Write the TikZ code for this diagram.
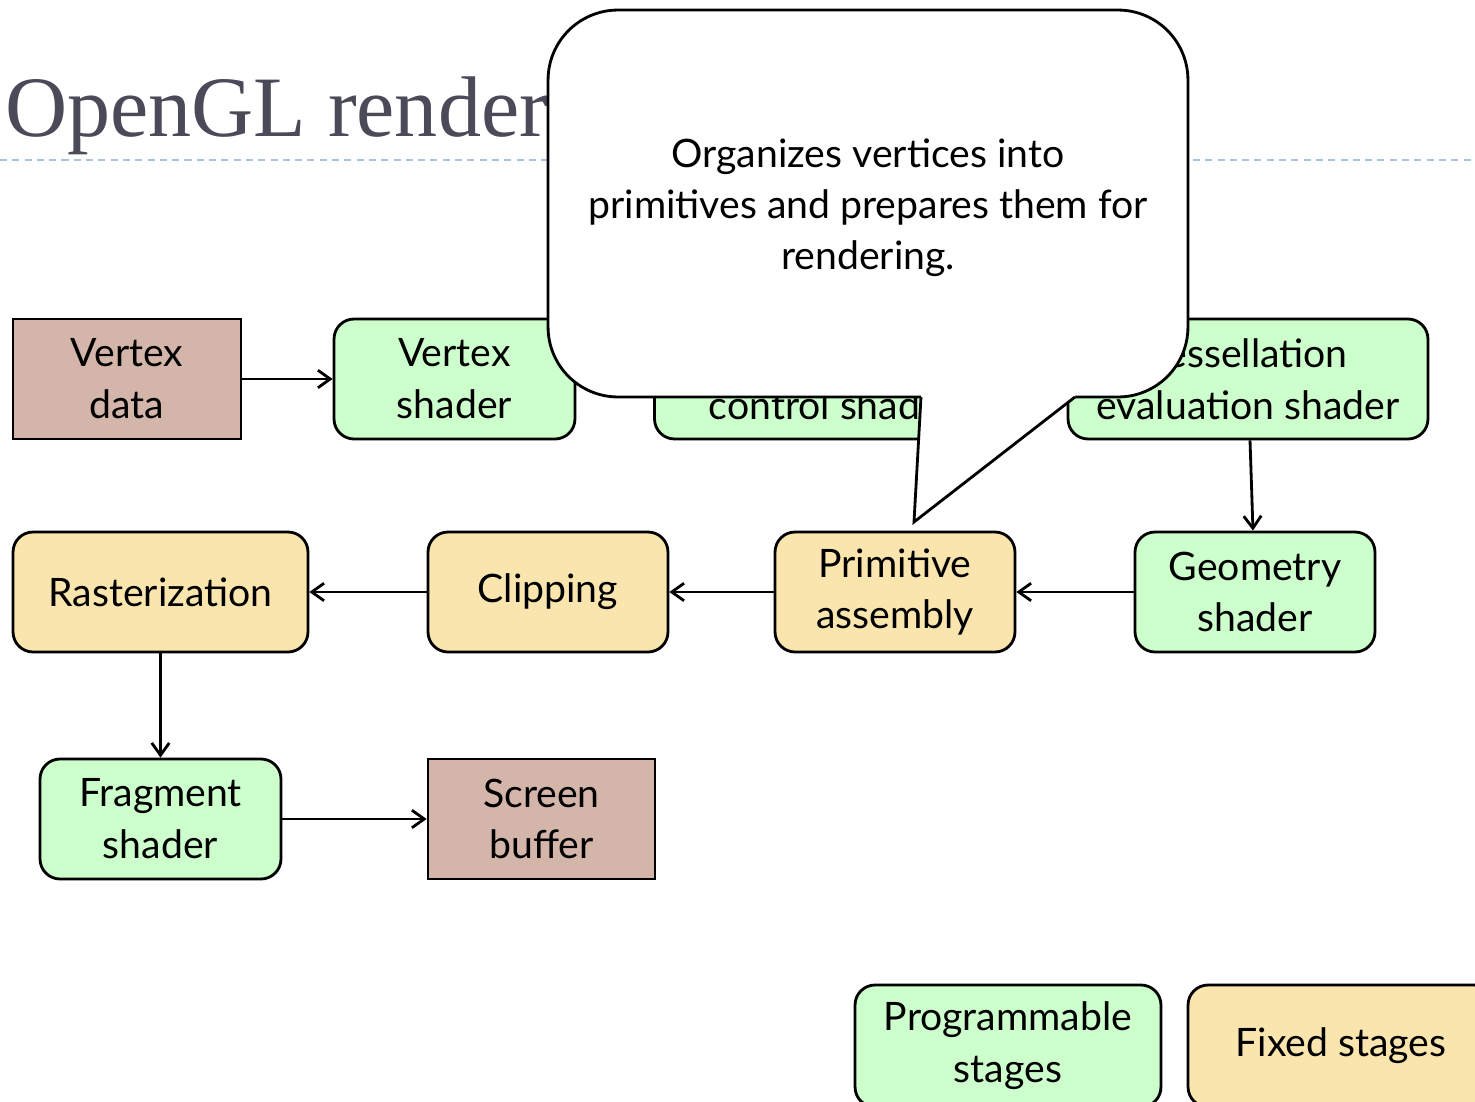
\documentclass[tikz,border=0pt]{standalone}
\usepackage{fontspec}
\setmainfont{Lato}
\newfontfamily\titlefont{Liberation Serif}
\usetikzlibrary{arrows.meta}

\definecolor{progfill}{HTML}{CCFFCC}
\definecolor{fixfill}{HTML}{FBE5AE}
\definecolor{datafill}{HTML}{D4B5A9}
\definecolor{titlegray}{HTML}{4A4A58}
\definecolor{rulecol}{HTML}{A9C3DF}

\begin{document}
\begin{tikzpicture}[x=0.02cm, y=-0.02cm,
    box/.style={draw=black, line width=1.6pt, inner sep=0pt, align=center,
      font=\fontsize{22.3}{29.5}\selectfont, minimum height=2.4cm},
    prog/.style={box, fill=progfill, rounded corners=0.4cm},
    fixed/.style={box, fill=fixfill, rounded corners=0.4cm},
    data/.style={box, fill=datafill},
    flow/.style={-{Straight Barb[length=7pt, width=10pt]}, line width=1.6pt}]

    \useasboundingbox (0,0) rectangle (1475,1102);
    \clip (0,0) rectangle (1475,1102);

    % Slide title and rule
    \node[anchor=base west, inner sep=0pt, text=titlegray,
      font=\titlefont\fontsize{49}{59}\selectfont] (title) at (5,136) {OpenGL render};
    \draw[rulecol, line width=1.1pt, dash pattern=on 4pt off 3pt] (0,160) -- (1475,160);

    % First row
    \node[data, minimum width=4.56cm] (vdata) at (127,379) {Vertex\\data};
    \node[prog, minimum width=4.82cm] (vshader) at (454.5,379) {Vertex\\shader};
    \node[prog, minimum width=7.1cm] (tcs) at (832,379) {Tessellation\\control shader};
    \node[prog, minimum width=7.2cm] (tes) at (1248,379) {Tessellation\\evaluation shader};

    % Second row
    \node[prog, minimum width=4.8cm] (geo) at (1255,592) {Geometry\\shader};
    \node[fixed, minimum width=4.8cm] (prim) at (895,592) {Primitive\\assembly};
    \node[fixed, minimum width=4.8cm] (clip) at (548,592) {Clipping};
    \node[fixed, minimum width=5.9cm] (rast) at (160.5,592) {Rasterization};

    % Third row
    \node[prog, minimum width=4.82cm] (frag) at (160.5,819) {Fragment\\shader};
    \node[data, minimum width=4.54cm] (screen) at (541.5,819) {Screen\\buffer};

    % Flow
    \draw[flow] (vdata) -- (vshader);
    \draw[flow] (vshader) -- (tcs);
    \draw[flow] (tcs) -- (tes);
    \draw[flow] (tes) -- (geo);
    \draw[flow] (geo) -- (prim);
    \draw[flow] (prim) -- (clip);
    \draw[flow] (clip) -- (rast);
    \draw[flow] (rast) -- (frag);
    \draw[flow] (frag) -- (screen);

    % Callout over the top row
    \node[draw=black, fill=white, line width=1.6pt, rounded corners=1.4cm,
      minimum width=12.8cm, minimum height=7.74cm, inner sep=0pt] (note) at (868,203.5) {};
    \node[align=center, inner sep=0pt, font=\fontsize{22.3}{29}\selectfont] (notetext) at (868,208)
      {Organizes vertices into\\primitives and prepares them for\\rendering.};
    \fill[white] (921,392) -- (921,397) -- (914,522) -- (1075,397) -- (1075,392) -- cycle;
    \draw[line width=1.6pt] (921,397) -- (914,522) -- (1075,397);

    % Legend
    \node[prog, minimum width=6.12cm, minimum height=2.44cm] (lprog) at (1008,1046) {Programmable\\stages};
    \node[fixed, minimum width=6.12cm, minimum height=2.44cm] (lfixed) at (1341,1046) {Fixed stages};
\end{tikzpicture}
\end{document}
